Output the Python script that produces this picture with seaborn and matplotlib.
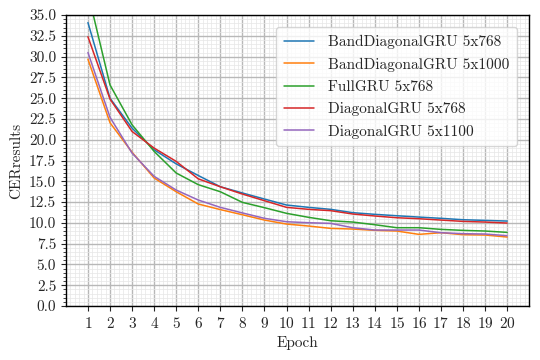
import numpy as np
import pandas as pd
import matplotlib
matplotlib.use("Agg")
import matplotlib.pyplot as plt
import seaborn as sns
from matplotlib.ticker import MultipleLocator

epochs = list(range(1, 21))
labels = [
    "BandDiagonalGRU 5x768", "BandDiagonalGRU 5x1000", "FullGRU 5x768",
    "DiagonalGRU 5x768", "DiagonalGRU 5x1100",
]
band_768 = [34.1, 25.0, 21.4, 18.8, 17.1, 15.7, 14.35, 13.6, 12.87, 12.15,
            11.87, 11.63, 11.23, 11.03, 10.86, 10.7, 10.55, 10.38, 10.3, 10.22]
band_1000 = [29.7, 22.05, 18.5, 15.4, 13.75, 12.27, 11.6, 10.98, 10.34, 9.86,
             9.62, 9.34, 9.26, 9.1, 9.02, 8.62, 8.82, 8.58, 8.54, 8.3]
full_768 = [37.7, 26.6, 21.8, 18.6, 16.0, 14.6, 13.75, 12.47, 11.83, 11.15,
            10.67, 10.26, 10.1, 9.78, 9.42, 9.42, 9.22, 9.1, 9.02, 8.86]
diag_768 = [32.4, 24.9, 21.0, 19.0, 17.4, 15.3, 14.35, 13.47, 12.67, 11.87,
            11.63, 11.47, 11.07, 10.83, 10.62, 10.5, 10.34, 10.18, 10.1, 9.98]
diag_1100 = [30.5, 22.7, 18.4, 15.6, 13.95, 12.75, 11.87, 11.2, 10.55, 10.14,
             10.02, 9.94, 9.42, 9.14, 9.14, 9.14, 8.82, 8.7, 8.66, 8.46]

series = [band_768, band_1000, full_768, diag_768, diag_1100]
df = pd.concat([pd.DataFrame({"Epoch": epochs, "CER": s, "model": name})
                for name, s in zip(labels, series)], ignore_index=True)

sns.set_style("ticks")
plt.rcParams['font.family'] = ['cmr10', 'DejaVu Serif']
plt.rcParams['mathtext.fontset'] = 'cm'
plt.rcParams['axes.formatter.use_mathtext'] = True
plt.rcParams['font.size'] = 11

fig = plt.figure(figsize=(5.4, 3.6), dpi=100)
ax = fig.add_axes([0.122, 0.15, 0.858, 0.808])

sns.lineplot(data=df, x="Epoch", y="CER", hue="model", hue_order=labels,
             palette=sns.color_palette("tab10", 5), linewidth=1.1, ax=ax)

ax.set_xlim(0, 21)
ax.set_ylim(0, 35)
ax.set_xticks(epochs)
ax.yaxis.set_major_locator(MultipleLocator(2.5))
ax.yaxis.set_minor_locator(MultipleLocator(0.5))
ax.xaxis.set_minor_locator(MultipleLocator(0.2))
ax.tick_params(axis='x', which='minor', length=0)
ax.tick_params(axis='y', which='minor', length=2.5)
ax.yaxis.set_major_formatter(matplotlib.ticker.FormatStrFormatter('%.1f'))
ax.grid(which='major', color='#b8b8b8', linewidth=1.0)
ax.grid(which='minor', color='#e6e6e6', linewidth=0.5)
ax.set_axisbelow(True)
for sp in ax.spines.values():
    sp.set_color('black')
    sp.set_linewidth(1.0)

ax.set_xlabel("Epoch")
ax.set_ylabel("CERresults")
ax.legend(loc='upper right', fontsize=11, framealpha=0.8,
          handlelength=2.0, handletextpad=0.9, labelspacing=0.55,
          borderpad=0.5, borderaxespad=0.8)

fig.savefig("out.png", dpi=100)
